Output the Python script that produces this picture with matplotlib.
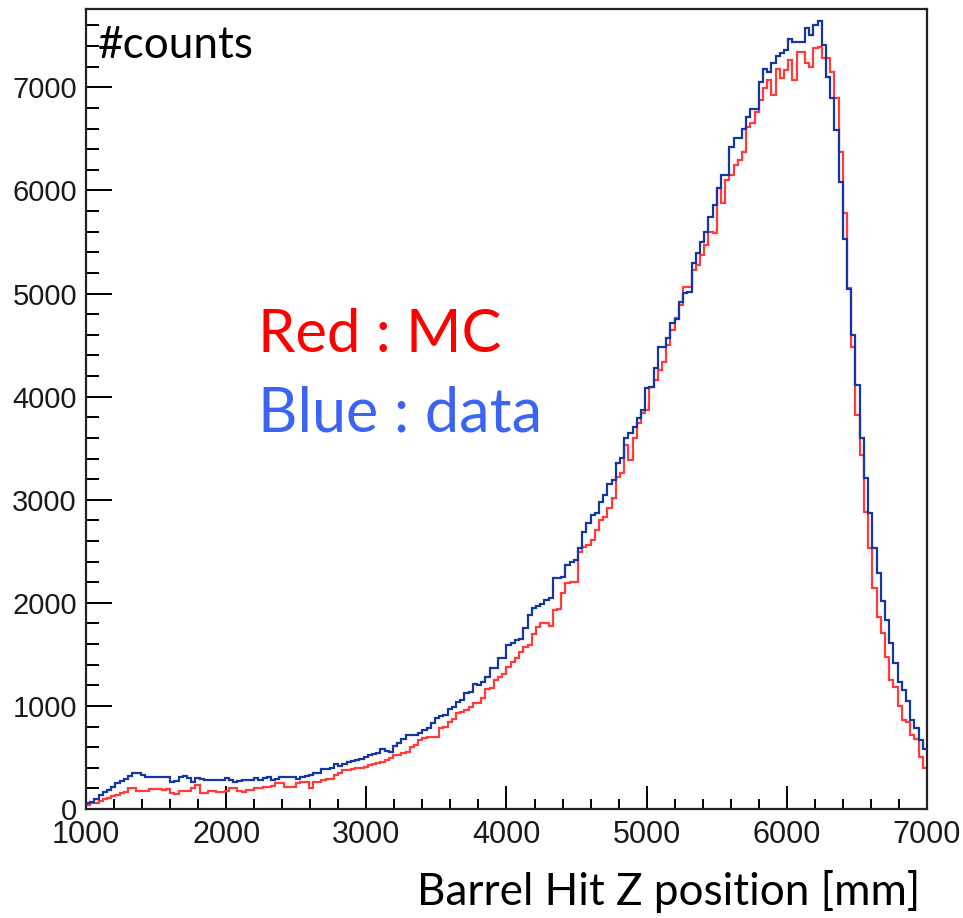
import numpy as np
import matplotlib
matplotlib.use("Agg")
import matplotlib.pyplot as plt
from matplotlib.ticker import MultipleLocator

# Histogram range / binning (200 bins of 30 mm between 1000 and 7000 mm)
x_min, x_max, n_bins = 1000, 7000, 200

data_counts = [
    60, 70, 93, 136, 168, 184, 216, 249, 275, 288,
    320, 346, 352, 330, 313, 310, 315, 312, 308, 313,
    265, 268, 307, 320, 297, 265, 297, 290, 281, 281,
    278, 283, 281, 300, 285, 265, 272, 281, 281, 285,
    297, 281, 300, 307, 285, 288, 307, 307, 313, 313,
    290, 307, 320, 330, 352, 352, 384, 384, 400, 436,
    420, 440, 455, 469, 475, 482, 500, 524, 533, 545,
    578, 565, 556, 610, 637, 675, 718, 718, 718, 740,
    766, 783, 838, 880, 902, 912, 966, 992, 1041, 1057,
    1121, 1138, 1212, 1202, 1234, 1283, 1370, 1364, 1461, 1461,
    1590, 1606, 1638, 1645, 1760, 1880, 1946, 1970, 1988, 2027,
    2050, 2237, 2237, 2250, 2366, 2398, 2415, 2528, 2690, 2771,
    2852, 2868, 2981, 3045, 3152, 3191, 3356, 3404, 3598, 3647,
    3705, 3792, 3870, 4083, 4093, 4277, 4481, 4481, 4568, 4713,
    4752, 4917, 5004, 5014, 5295, 5392, 5499, 5596, 5741, 5857,
    6020, 6147, 6147, 6420, 6505, 6505, 6600, 6712, 6789, 6790,
    7051, 7177, 7150, 7235, 7303, 7332, 7361, 7468, 7440, 7440,
    7440, 7574, 7507, 7604, 7643, 7410, 7100, 6896, 6586, 6081,
    5528, 5043, 4597, 4112, 3598, 3209, 2870, 2531, 2288, 2017,
    1833, 1610, 1416, 1232, 1154, 1047, 863, 785, 669, 582,
]

mc_counts = [
    40, 55, 60, 80, 93, 103, 126, 140, 152, 168,
    200, 200, 178, 178, 178, 191, 191, 191, 184, 191,
    158, 146, 178, 178, 178, 200, 233, 158, 158, 178,
    178, 168, 168, 175, 200, 200, 178, 168, 184, 184,
    200, 200, 216, 216, 223, 249, 249, 216, 216, 216,
    255, 265, 265, 200, 265, 265, 281, 288, 288, 330,
    346, 378, 378, 390, 395, 400, 410, 426, 440, 449,
    459, 475, 491, 523, 523, 539, 556, 604, 620, 669,
    685, 701, 701, 701, 782, 798, 847, 870, 928, 944,
    960, 992, 1025, 1031, 1073, 1160, 1170, 1251, 1283, 1309,
    1380, 1429, 1461, 1525, 1574, 1590, 1697, 1768, 1800, 1800,
    1775, 1930, 1936, 2091, 2188, 2204, 2204, 2495, 2544, 2560,
    2608, 2705, 2802, 2835, 2916, 3016, 3220, 3259, 3530, 3385,
    3598, 3744, 3841, 3870, 4093, 4160, 4257, 4335, 4500, 4646,
    4762, 4888, 5063, 5063, 5228, 5276, 5373, 5470, 5600, 5586,
    6021, 5877, 6099, 6150, 6250, 6294, 6372, 6614, 6653, 6760,
    6876, 6993, 7070, 6925, 7177, 7090, 7167, 7264, 7070, 7342,
    7342, 7235, 7196, 7380, 7390, 7284, 7284, 7148, 6896, 6372,
    5780, 5053, 4481, 3821, 3433, 2880, 2531, 2143, 1862, 1707,
    1474, 1251, 1183, 999, 863, 844, 718, 679, 504, 398,
]

x_ticks = [1000, 2000, 3000, 4000, 5000, 6000, 7000]
y_ticks = [0, 1000, 2000, 3000, 4000, 5000, 6000, 7000]

edges = np.linspace(x_min, x_max, n_bins + 1)

fig = plt.figure(figsize=(9.63, 9.18), dpi=100)
ax = fig.add_axes([0.0893, 0.1187, 0.8733, 0.8715])

ax.stairs(mc_counts, edges, color="#ff3b3b", linewidth=1.6, baseline=None, zorder=2)
ax.stairs(data_counts, edges, color="#1537a2", linewidth=1.6, baseline=None, zorder=3)

ax.set_xlim(x_min, x_max)
ax.set_ylim(0, 7760)

ax.set_xticks(x_ticks)
ax.set_xticklabels([str(v) for v in x_ticks])
ax.set_yticks(y_ticks)
ax.set_yticklabels([str(v) for v in y_ticks])
ax.xaxis.set_minor_locator(MultipleLocator(200))
ax.yaxis.set_minor_locator(MultipleLocator(200))

ax.tick_params(axis="x", which="major", direction="in", length=16.5, width=1.4,
               pad=8, labelsize=22, colors="black", top=False)
ax.tick_params(axis="x", which="minor", direction="in", length=7.5, width=1.4, top=False)
ax.tick_params(axis="y", which="major", direction="in", length=18.5, width=1.4,
               pad=6.5, labelsize=21, colors="black", right=False)
ax.tick_params(axis="y", which="minor", direction="in", length=9.5, width=1.4, right=False)
for lab in ax.get_xticklabels() + ax.get_yticklabels():
    lab.set_family(["Liberation Sans", "DejaVu Sans"])
    lab.set_color("#1a1a1a")

for sp in ax.spines.values():
    sp.set_linewidth(1.6)
    sp.set_color("#222222")

# Texts
fig.text(98 / 963, 1 - 58 / 918, "#counts", fontsize=31.8, family=["Lato", "DejaVu Sans"],
         color="black", ha="left", va="baseline")
fig.text(920 / 963, 1 - 905 / 918, "Barrel Hit Z position [mm]", fontsize=31.8,
         family=["Lato", "DejaVu Sans"], color="black", ha="right", va="baseline")
fig.text(258 / 963, 1 - 352 / 918, "Red : MC", fontsize=43, family=["Lato", "DejaVu Sans"],
         color="#ff0000", ha="left", va="baseline")
fig.text(258 / 963, 1 - 432 / 918, "Blue : data", fontsize=44, family=["Lato", "DejaVu Sans"],
         color="#3b64f3", ha="left", va="baseline")

fig.savefig("out.png", dpi=100, facecolor="white")
